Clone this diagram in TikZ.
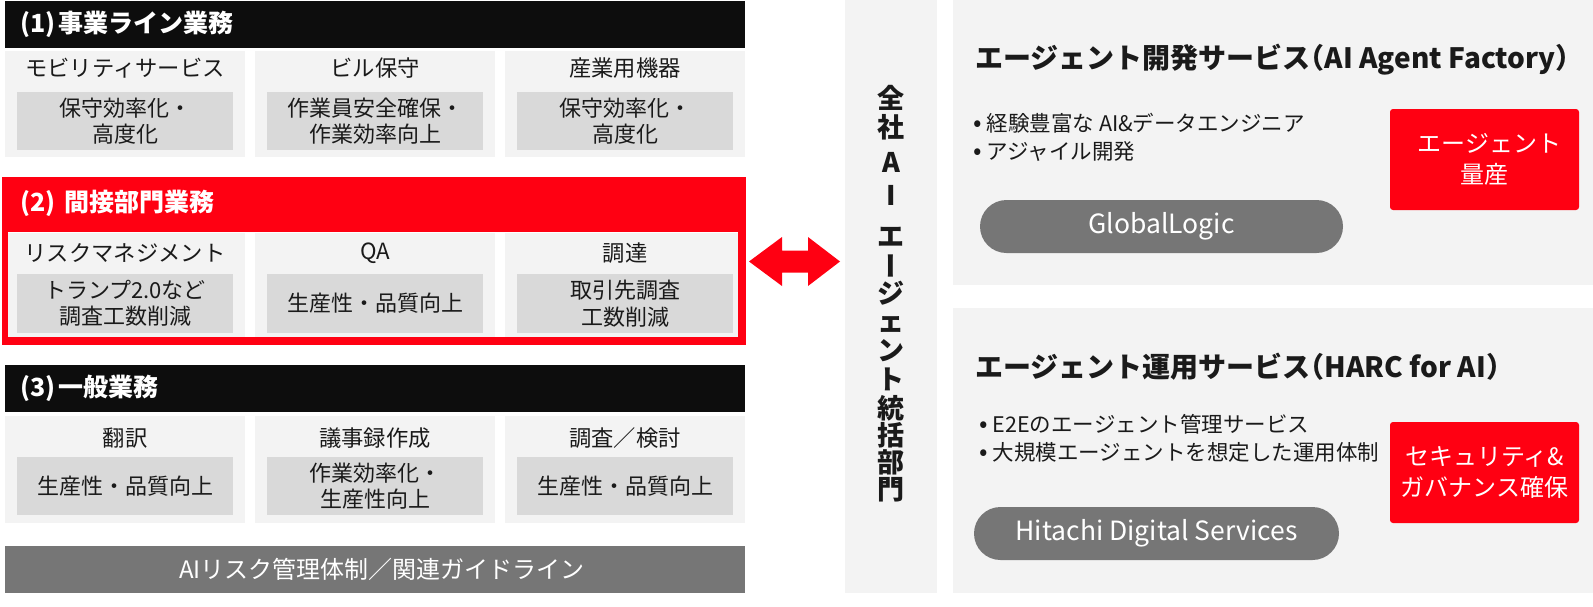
\documentclass[tikz,border=0pt]{standalone}
\usepackage{fontspec}
\setmainfont{Noto Sans CJK JP}
\definecolor{hred}{RGB}{255,0,18}
\definecolor{hblack}{RGB}{13,13,13}
\definecolor{cellbg}{RGB}{243,243,243}
\definecolor{innerbg}{RGB}{217,217,217}
\definecolor{pillbg}{RGB}{118,118,118}
\definecolor{txt}{RGB}{26,26,26}
\newcommand{\bul}{{\fontsize{25}{28}\selectfont •}\hspace{5pt}}
\begin{document}
\begin{tikzpicture}[x=1pt,y=-1pt,
  hdrtext/.style={anchor=west, text=white, inner sep=0, font=\fontsize{25}{30}\selectfont\bfseries},
  celltitle/.style={text=txt, inner sep=0, font=\fontsize{22.3}{26}\selectfont},
  innerbox/.style={fill=innerbg, minimum width=216pt, minimum height=58pt, inner sep=0, align=center, text=txt, font=\fontsize{22}{26.5}\selectfont},
  vchar/.style={text=txt, inner sep=0, text height=20.5pt, text depth=0pt, font=\fontsize{27}{30}\selectfont\bfseries},
  ptitle/.style={anchor=west, text=txt, inner sep=0, font=\fontsize{28}{32}\selectfont\bfseries},
  bullets/.style={anchor=west, text=txt, inner sep=0, align=left, font=\fontsize{21.5}{28}\selectfont},
  redbox/.style={fill=hred, rounded corners=3pt, minimum width=189pt, minimum height=101pt, inner sep=0, align=center, text=white, font=\fontsize{24}{31}\selectfont},
  pill/.style={fill=pillbg, minimum height=53pt, rounded corners=26.5pt, inner sep=0, text=white, font=\fontsize{26.5}{30}\selectfont}
]
\useasboundingbox (0,0) rectangle (1593,606);
\fill[white] (0,0) rectangle (1593,606);

% ---------- (1) ----------
\fill[hblack] (5,1) rectangle (745,48);
\node[hdrtext] (h1) at (20,24) {(1)\hspace{3pt}事業ライン業務};
\fill[cellbg] (5,51) rectangle (245,157);
\fill[cellbg] (255,51) rectangle (495,157);
\fill[cellbg] (505,51) rectangle (745,157);
\node[celltitle] (t11) at (125,68) {モビリティサービス};
\node[celltitle] (t12) at (375,68) {ビル保守};
\node[celltitle] (t13) at (625,68) {産業用機器};
\node[innerbox] (b11) at (125,121) {保守効率化・\\高度化};
\node[innerbox] (b12) at (375,121) {作業員安全確保・\\作業効率向上};
\node[innerbox] (b13) at (625,121) {保守効率化・\\高度化};

% ---------- (2) ----------
\fill[hred] (2,177) rectangle (746,345);
\fill[white] (8,232) rectangle (738,337);
\node[hdrtext] (h2) at (20,203) {(2)\hspace{9pt}間接部門業務};
\fill[cellbg] (8,233) rectangle (245,337);
\fill[cellbg] (255,233) rectangle (495,337);
\fill[cellbg] (505,233) rectangle (738,337);
\node[celltitle] (t21) at (125,253) {リスクマネジメント};
\node[celltitle] (t22) at (375,253) {QA};
\node[celltitle] (t23) at (625,253) {調達};
\node[innerbox, minimum height=59pt] (b21) at (125,303.5) {トランプ2.0など\\調査工数削減};
\node[innerbox, minimum height=59pt] (b22) at (375,303.5) {生産性・品質向上};
\node[innerbox, minimum height=59pt] (b23) at (625,303.5) {取引先調査\\工数削減};

% ---------- (3) ----------
\fill[hblack] (5,365) rectangle (745,412);
\node[hdrtext] (h3) at (20,388) {(3)\hspace{3pt}一般業務};
\fill[cellbg] (5,416) rectangle (245,523);
\fill[cellbg] (255,416) rectangle (495,523);
\fill[cellbg] (505,416) rectangle (745,523);
\node[celltitle] (t31) at (125,438) {翻訳};
\node[celltitle] (t32) at (375,438) {議事録作成};
\node[celltitle] (t33) at (625,438) {調査／検討};
\node[innerbox] (b31) at (125,486) {生産性・品質向上};
\node[innerbox] (b32) at (375,486) {作業効率化・\\生産性向上};
\node[innerbox] (b33) at (625,486) {生産性・品質向上};

% ---------- bottom bar ----------
\fill[pillbg] (5,546) rectangle (745,593);
\node[text=white, inner sep=0, font=\fontsize{24}{26}\selectfont] (risk) at (382,569) {AIリスク管理体制／関連ガイドライン};

% ---------- arrow ----------
\coordinate (arL) at (749,261.5);
\coordinate (arR) at (840,261.5);
\fill[hred] (arL) -- (782,237) -- (782,250.5) -- (808,250.5) -- (808,237) -- (arR)
  -- (808,286) -- (808,272.5) -- (782,272.5) -- (782,286) -- cycle;

% ---------- centre column ----------
\fill[cellbg] (845,0) rectangle (937,593);
\foreach \c/\yy [count=\i] in {全/98,社/127,A/162,I/195,エ/236}
  \node[vchar] (v\i) at (891,\yy) {\c};
\node[vchar, rotate=-90] (v6) at (891,266) {ー};
\foreach \c/\yy [count=\i from 7] in {ジ/293,ェ/321,ン/350,ト/379,統/408,括/435,部/462,門/489}
  \node[vchar] (v\i) at (891,\yy) {\c};

% ---------- right panel 1 ----------
\fill[cellbg] (953,0) rectangle (1593,285);
\node[ptitle] (p1) at (975,60) {エージェント開発サービス\hspace{-14pt}（AI Agent Factory）};
\node[bullets] (l1) at (973,137.5) {\bul 経験豊富な AI\&データエンジニア\\\bul アジャイル開発};
\node[redbox] (r1) at (1484.5,159.5) {\hspace{10pt}エージェント\\量産};
\node[pill, minimum width=363pt] (gl) at (1161.5,226.5) {GlobalLogic};

% ---------- right panel 2 ----------
\fill[cellbg] (953,308) rectangle (1593,593);
\node[ptitle] (p2) at (975,367) {エージェント運用サービス\hspace{-14pt}（HARC for AI）};
\node[bullets] (l2) at (979,438.5) {\bul E2Eのエージェント管理サービス\\\bul 大規模エージェントを想定した運用体制};
\node[redbox] (r2) at (1484.5,472.5) {セキュリティ\&\\ガバナンス確保};
\node[pill, minimum width=365pt] (hd) at (1156.5,533.5) {Hitachi Digital Services};
\end{tikzpicture}
\end{document}
